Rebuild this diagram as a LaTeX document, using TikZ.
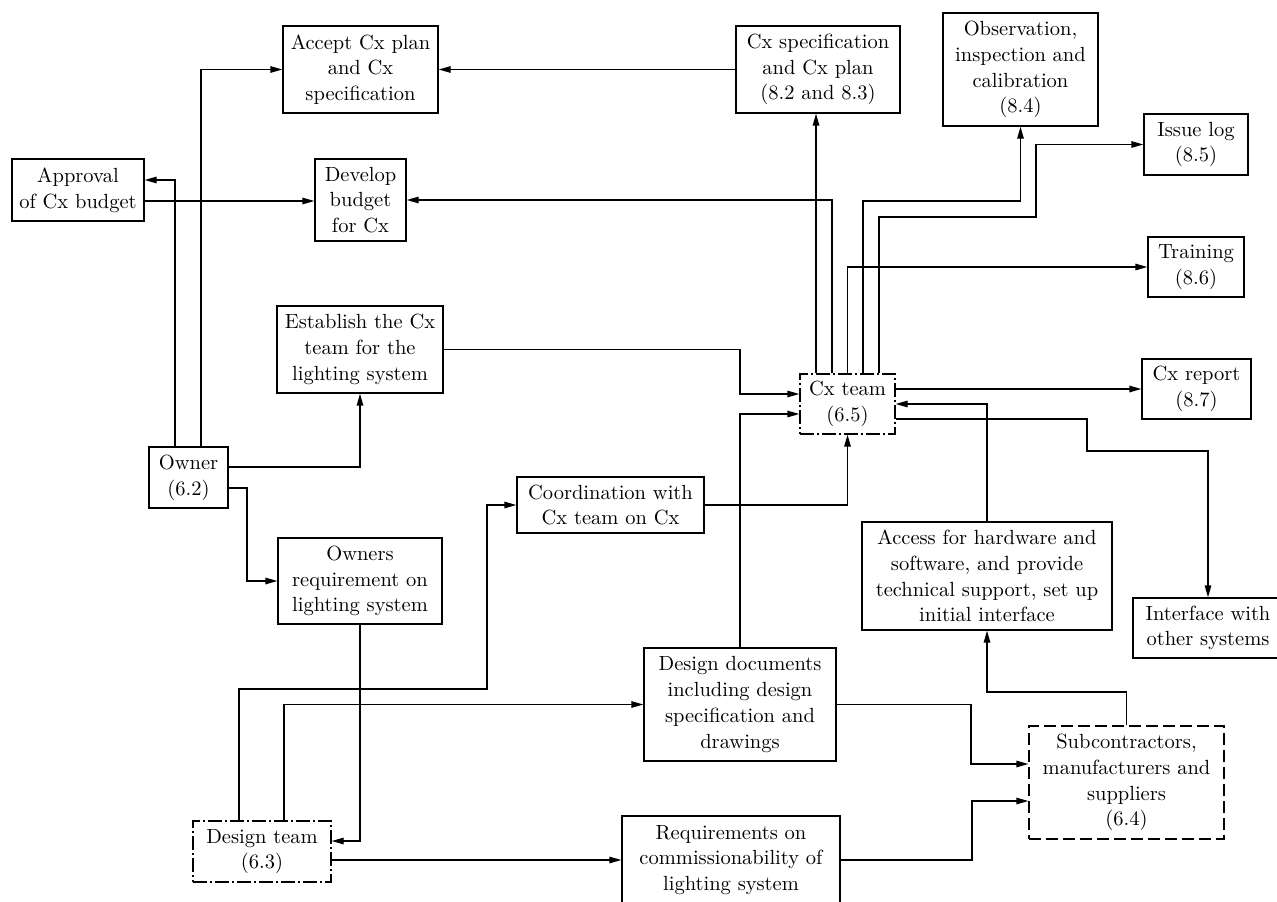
\documentclass[tikz,border=0pt]{standalone}
\usepackage{fontspec}
\setmainfont{lmroman10-regular.otf}
\usetikzlibrary{arrows.meta}
\begin{document}
\begin{tikzpicture}[x=1pt,y=-1pt,line width=1.3pt,
  box/.style={draw,align=center,inner sep=0pt,font=\fontsize{20.5}{25.7}\selectfont},
  dashdot/.style={dash pattern=on 14pt off 3pt on 2pt off 3pt},
  dashbox/.style={dash pattern=on 12pt off 5pt},
  arr/.style={-{Triangle[length=12pt,width=6.5pt]}}]
\useasboundingbox (0,0) rectangle (1277,902);
% nodes
\node[box,minimum width=155pt,minimum height=87pt] (accept) at (360.5,69.5) {Accept Cx plan\\and Cx\\specification};
\node[box,minimum width=164pt,minimum height=87pt] (cxspec) at (818,69.5) {Cx specification\\and Cx plan\\(8.2 and 8.3)};
\node[box,minimum width=155pt,minimum height=113pt] (obs) at (1020.5,69.5) {Observation,\\inspection and\\calibration\\(8.4)};
\node[box,minimum width=104pt,minimum height=61pt] (issue) at (1196,144.5) {Issue log\\(8.5)};
\node[box,minimum width=132pt,minimum height=62pt] (approval) at (78,190) {Approval\\of Cx budget};
\node[box,minimum width=91pt,minimum height=82pt] (develop) at (360.5,200) {Develop\\budget\\for Cx};
\node[box,minimum width=96pt,minimum height=60pt] (training) at (1196,267) {Training\\(8.6)};
\node[box,minimum width=166pt,minimum height=87pt] (establish) at (360,349.5) {Establish the Cx\\team for the\\lighting system};
\node[box,dashdot,minimum width=95pt,minimum height=60pt] (cxteam) at (847.5,404) {Cx team\\(6.5)};
\node[box,minimum width=109pt,minimum height=60pt] (cxreport) at (1196.5,389) {Cx report\\(8.7)};
\node[box,minimum width=79pt,minimum height=61pt] (owner) at (188.5,477.5) {Owner\\(6.2)};
\node[box,minimum width=187pt,minimum height=56pt] (coord) at (610.5,505) {Coordination with\\Cx team on Cx};
\node[box,minimum width=250pt,minimum height=108pt] (access) at (987,576) {Access for hardware and\\software, and provide\\technical support, set up\\initial interface};
\node[box,minimum width=164pt,minimum height=86pt] (ownreq) at (360,581) {Owners\\requirement on\\lighting system};
\node[box,minimum width=150pt,minimum height=60pt] (interface) at (1208,628) {Interface with\\other systems};
\node[box,minimum width=192pt,minimum height=113pt] (designdocs) at (740,704.5) {Design documents\\including design\\specification and\\drawings};
\node[box,dashbox,minimum width=195pt,minimum height=113pt] (subcon) at (1126.5,782.5) {Subcontractors,\\manufacturers and\\suppliers\\(6.4)};
\node[box,dashdot,minimum width=138pt,minimum height=61pt] (designteam) at (262,851.5) {Design team\\(6.3)};
\node[box,minimum width=218pt,minimum height=88pt] (req) at (731,860) {Requirements on\\commissionability of\\lighting system};
% connectors
\draw[arr] (cxspec.west) -- (accept.east);
\draw[arr] ([xshift=12.5pt]owner.north) |- (accept.west);
\draw[arr] ([xshift=-13.5pt]owner.north) |- ([yshift=10pt]approval.east);
\draw[arr] ([yshift=-11pt]approval.east) -- ([yshift=-11pt]approval.east -| develop.west);
\draw[arr] ([xshift=-15.5pt]cxteam.north) |- (develop.east);
\draw[arr] ([xshift=-31.5pt]cxteam.north) -- ([xshift=-31.5pt]cxteam.north |- cxspec.south);
\draw[arr] (cxteam.north) |- (training.west);
\draw[arr] ([xshift=15.5pt]cxteam.north) |- (obs.south |- 0,201) -- (obs.south);
\draw[arr] ([xshift=31.5pt]cxteam.north) |- (1036,217) |- (issue.west);
\draw[arr] (establish.east) -- (740,349.5) |- ([yshift=10pt]cxteam.west);
\draw[arr] (designdocs.north) |- ([yshift=-10pt]cxteam.west);
\draw[arr] (coord.east) -| (cxteam.south);
\draw[arr] ([yshift=15pt]cxteam.east) -- ([yshift=15pt]cxteam.east -| cxreport.west);
\draw[arr] (access.north) |- (cxteam.east);
\draw[arr] ([yshift=-15pt]cxteam.east) -| (1087,451) -| (interface.north);
\draw[arr] ([yshift=10.5pt]owner.east) -| (establish.south);
\draw[arr] ([yshift=-10.5pt]owner.east) -- (247,488) |- (ownreq.west);
\draw[arr] (ownreq.south) |- ([yshift=10.5pt]designteam.east);
\draw[arr] ([xshift=-23pt]designteam.north) |- (487,689) |- (coord.west);
\draw[arr] ([xshift=22pt]designteam.north) |- (designdocs.west);
\draw[arr] (req.west -| designteam.east) -- (req.west);
\draw[arr] (designdocs.east) -- (971,704.5) |- ([yshift=18.5pt]subcon.west);
\draw[arr] (req.east) -- (972,860) |- ([yshift=-18.5pt]subcon.west);
\draw[arr] (subcon.north) -- (1126.5,692) -| (access.south);
\end{tikzpicture}
\end{document}
